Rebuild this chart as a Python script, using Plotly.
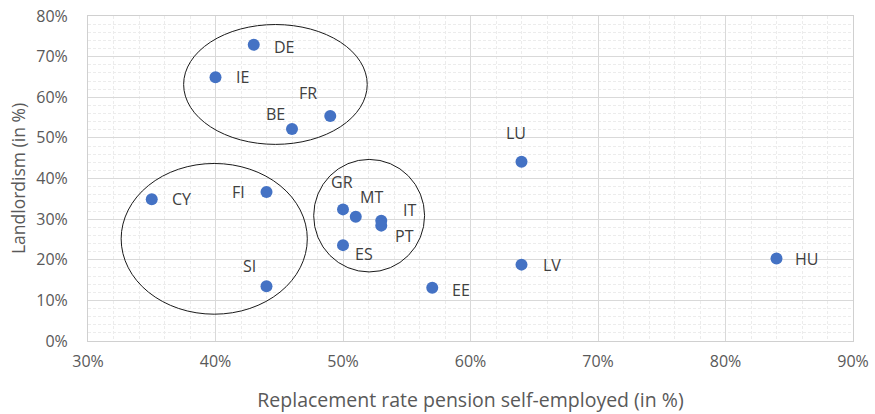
import plotly.graph_objects as go

countries = ["DE", "IE", "FR", "BE", "CY", "FI", "GR", "MT", "IT", "PT", "ES", "SI", "EE", "LU", "LV", "HU"]
replacement_rate = [43, 40, 49, 46, 35, 44, 50, 51, 53, 53, 50, 44, 57, 64, 64, 84]
landlordism = [72.9, 64.9, 55.4, 52.2, 34.9, 36.7, 32.4, 30.6, 29.6, 28.4, 23.6, 13.5, 13.1, 44.1, 18.8, 20.3]

# label offsets in pixels (style)
label_offsets = {
    "DE": (31, -2), "IE": (27, 0), "FR": (-22, 23), "BE": (-17, 15), "CY": (30, 0),
    "FI": (-28, 0), "GR": (-1, 27), "MT": (16, 20), "IT": (28, 11), "PT": (23, -10),
    "ES": (21, -9), "SI": (-17, 20), "EE": (29, -2), "LU": (-6, 29), "LV": (30, 0), "HU": (30, 0),
}

# group ellipses (x0, x1, y0, y1) in data units
groups = [
    (37.5, 51.9, 48.4, 77.9),
    (32.6, 47.2, 6.6, 43.7),
    (47.7, 56.4, 17.0, 44.7),
]

FONT = "'Open Sans', 'Noto Sans', sans-serif"

fig = go.Figure()
fig.add_trace(go.Scatter(
    x=replacement_rate, y=landlordism, mode="markers",
    marker=dict(size=12, color="#4472C4"),
    hoverinfo="text", text=countries, showlegend=False,
))

for c, xv, yv in zip(countries, replacement_rate, landlordism):
    dx, dy = label_offsets[c]
    fig.add_annotation(x=xv, y=yv, text=c, showarrow=False, xshift=dx, yshift=dy,
                       font=dict(family=FONT, size=16, color="#404040"))

for x0, x1, y0, y1 in groups:
    fig.add_shape(type="circle", xref="x", yref="y", x0=x0, x1=x1, y0=y0, y1=y1,
                  line=dict(color="#1a1a1a", width=1))

fig.update_layout(
    width=875, height=414,
    margin=dict(l=88, r=22, t=16, b=73),
    paper_bgcolor="white", plot_bgcolor="white",
    font=dict(family=FONT, color="#595959"),
    xaxis=dict(
        range=[30, 90], dtick=10, ticksuffix="%", automargin=False,
        showgrid=True, gridcolor="#d9d9d9", gridwidth=1,
        minor=dict(dtick=2, showgrid=True, gridcolor="#ececec", griddash="3px,2px"),
        showline=True, linecolor="#d0d0d0", mirror=True,
        zeroline=False, ticks="", ticklabelstandoff=6, ticklabeloverflow="allow",
        tickfont=dict(size=16, color="#595959"),
        title=dict(text="Replacement rate pension self-employed (in %)",
                   font=dict(size=19.5, color="#595959"), standoff=22),
    ),
    yaxis=dict(
        range=[0, 80], dtick=10, ticksuffix="%", automargin=False,
        showgrid=True, gridcolor="#d9d9d9", gridwidth=1,
        minor=dict(dtick=2, showgrid=True, gridcolor="#ececec", griddash="3px,2px"),
        showline=True, linecolor="#d0d0d0", mirror=True,
        zeroline=False, ticks="", ticklabelstandoff=16, ticklabeloverflow="allow",
        tickfont=dict(size=16, color="#595959"),
        title=dict(text="Landlordism (in %)", font=dict(size=17.5, color="#595959"), standoff=6),
    ),
)

fig.write_html("out.html", config={"displayModeBar": False},
               post_script="document.body.style.margin='0';")
